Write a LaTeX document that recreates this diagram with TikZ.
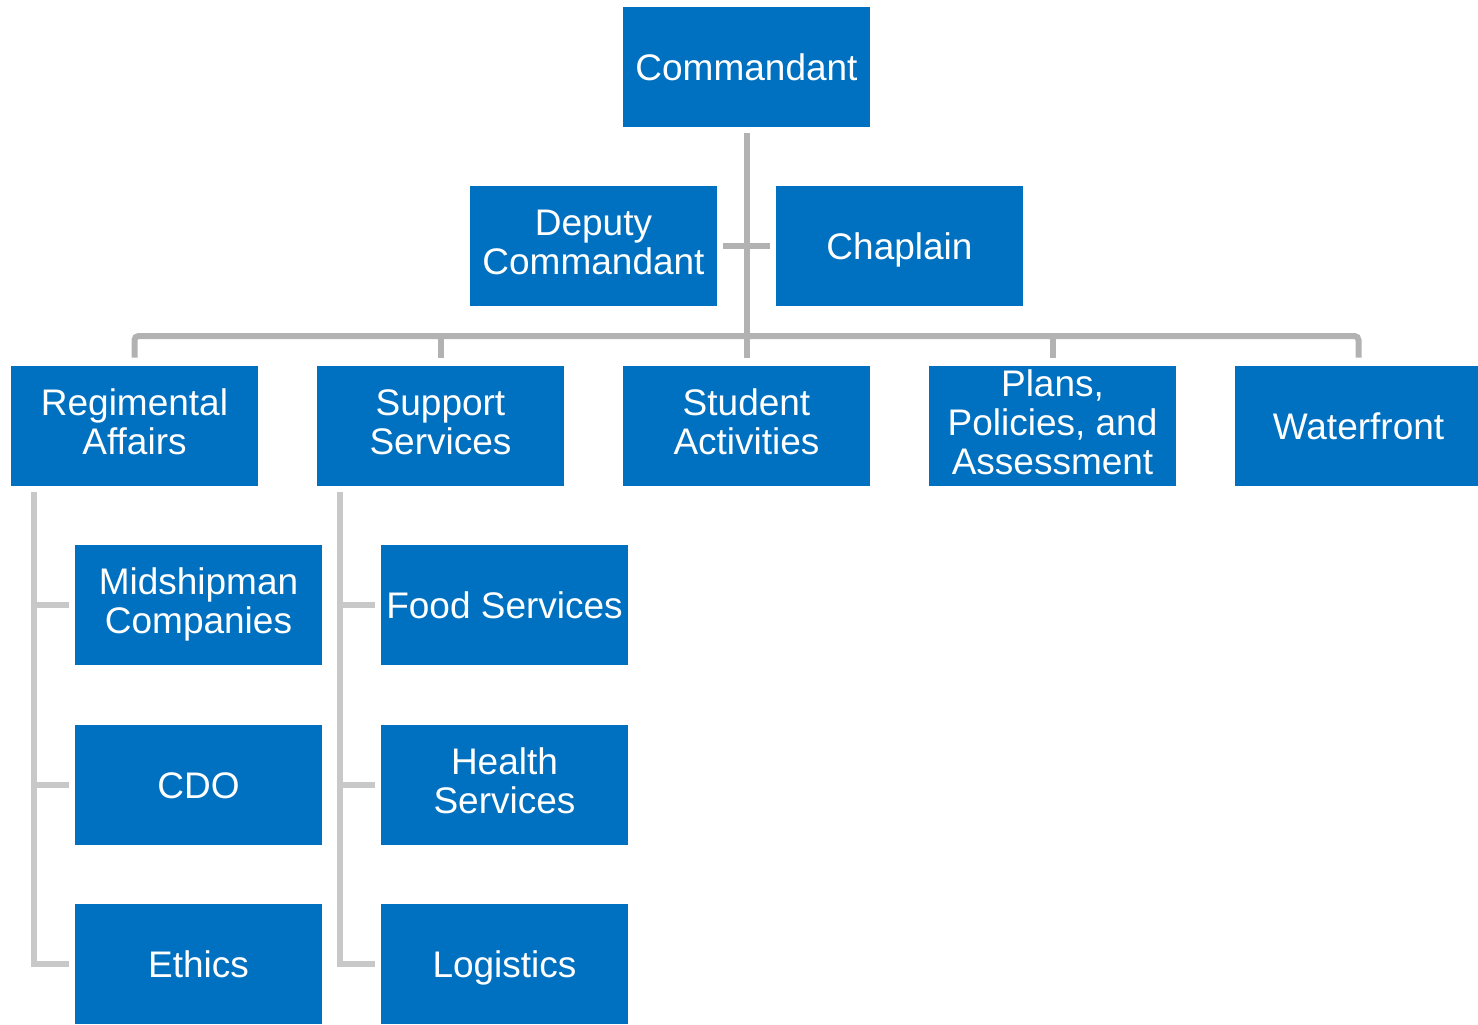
\documentclass[tikz,border=0pt]{standalone}
\usepackage{fontspec}
\setmainfont{Liberation Sans}
\usepackage{tikz}
\usepackage{xcolor}
\definecolor{orgblue}{HTML}{0070C0}
\definecolor{orggrey}{HTML}{B2B2B2}
\definecolor{subgrey}{HTML}{C8C8C8}
\tikzset{
    org-box/.style = {fill=orgblue, text=white, rectangle, minimum width=123.5pt, minimum height=60pt, inner xsep=2pt, inner ysep=0pt, align=center, font=\fontsize{18.5}{19.5}\selectfont,
        execute at begin node={\rule{0pt}{17pt}}, execute at end node={\rule[-4pt]{0pt}{4pt}}},
    org-line/.style = {draw=orggrey, line width=3pt},
    sub-line/.style = {draw=subgrey, line width=3pt},
}

\begin{document}
\begin{tikzpicture}[x=0.5pt, y=-0.5pt]
\useasboundingbox (0,0) rectangle (1478,1024);

\node [org-box] (cmd) at (746.5,67) {Commandant};
\node [org-box] (dep) at (593.5,246) {Deputy\\Commandant};
\node [org-box] (chap) at (899.5,246) {Chaplain};

\node [org-box] (reg) at (134.5,426) {Regimental\\Affairs};
\node [org-box] (sup) at (440.5,426) {Support\\Services};
\node [org-box] (stud) at (746.5,426) {Student\\Activities};
\node [org-box] (plans) at (1052.5,426) {Plans,\\Policies, and\\Assessment};
\node [org-box] (water) at (1358.5,426) {Waterfront};

\node [org-box] (mid) at (198.5,605) {Midshipman\\Companies};
\node [org-box] (cdo) at (198.5,785) {CDO};
\node [org-box] (eth) at (198.5,964) {Ethics};

\node [org-box] (food) at (504.5,605) {Food Services};
\node [org-box] (health) at (504.5,785) {Health\\Services};
\node [org-box] (logi) at (504.5,964) {Logistics};

% top level
\draw [org-line] ([yshift=-3pt]cmd.south) -- ([yshift=4pt]stud.north);
\draw [org-line] ([xshift=3pt]dep.east) -- ([xshift=-3pt]chap.west);
\coordinate (bus) at (746.5,336);
\draw [org-line, rounded corners=2pt] ([yshift=4pt]reg.north) -- (bus -| reg.north) -- (bus -| water.north) -- ([yshift=4pt]water.north);
\foreach \n in {sup, plans}
    \draw [org-line] (bus -| \n.north) -- ([yshift=4pt]\n.north);

% sub units
\draw [sub-line] ([xshift=11.5pt,yshift=-3pt]reg.south west) |- ([xshift=-3pt]eth.west);
\draw [sub-line] ([xshift=11.5pt,yshift=-3pt]sup.south west) |- ([xshift=-3pt]logi.west);
\foreach \n in {mid, cdo, food, health}
    \draw [sub-line] ([xshift=-3pt]\n.west) -- ++(-35,0);
\end{tikzpicture}
\end{document}
